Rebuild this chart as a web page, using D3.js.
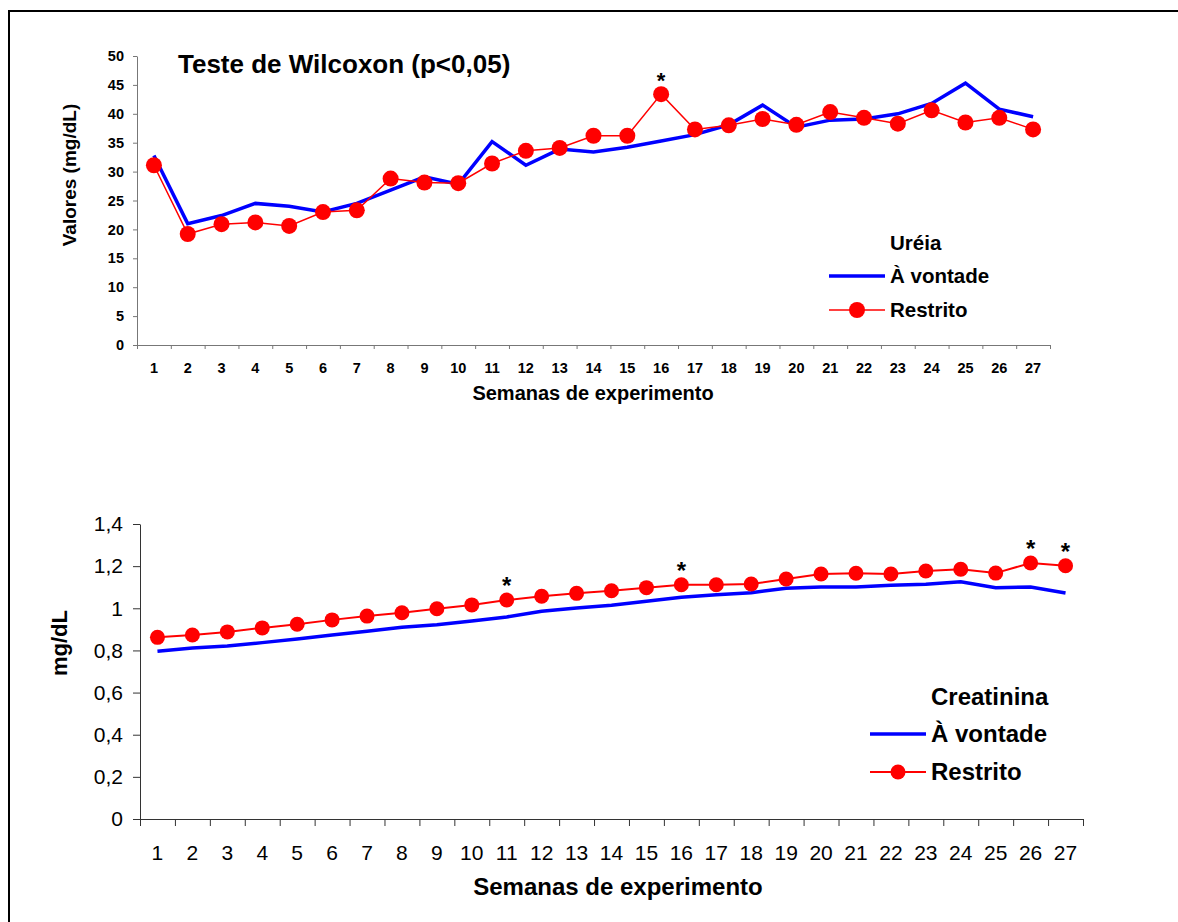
<!DOCTYPE html>
<html><head><meta charset="utf-8">
<script src="https://cdn.jsdelivr.net/npm/d3@7"></script>
<style>body{margin:0;background:#fff}svg{display:block;font-family:"Liberation Sans",Arial,sans-serif}</style>
</head><body>
<svg id="c" width="1178" height="922"></svg>
<script>
const weeks = d3.range(1, 28);
const ureaVontade = [32.8,21.0,22.4,24.5,24.0,23.0,24.5,26.8,29.1,27.8,35.2,31.1,33.9,33.4,34.2,35.3,36.4,38.1,41.5,37.7,38.9,39.1,40.0,41.8,45.3,40.8,39.5];
const ureaRestrito = [31.1,19.2,20.9,21.2,20.6,23.0,23.3,28.8,28.1,28.0,31.4,33.6,34.1,36.2,36.2,43.4,37.3,38.0,39.1,38.1,40.3,39.3,38.3,40.6,38.5,39.3,37.3];
const ureaSig = [16];
const ureaYTicks = [0,5,10,15,20,25,30,35,40,45,50];
const creaVontade = [0.796,0.812,0.821,0.837,0.854,0.873,0.891,0.910,0.922,0.940,0.959,0.986,1.001,1.014,1.033,1.052,1.064,1.074,1.095,1.101,1.101,1.109,1.114,1.126,1.098,1.101,1.073];
const creaRestrito = [0.862,0.873,0.888,0.907,0.924,0.945,0.963,0.979,0.998,1.016,1.039,1.057,1.071,1.083,1.098,1.112,1.112,1.115,1.139,1.163,1.166,1.163,1.177,1.185,1.167,1.215,1.202];
const creaSig = [11,16,26,27];
const creaYTicks = [0,0.2,0.4,0.6,0.8,1.0,1.2,1.4];

const svg = d3.select("#c");
svg.append("rect").attr("x",9).attr("y",11).attr("width",1200).attr("height",950)
  .attr("fill","none").attr("stroke","#000").attr("stroke-width",2);

function chart(o){
  const g = svg.append("g");
  const x = d3.scaleBand().domain(weeks).range([o.x0,o.x1]);
  const xb = d3.scaleLinear().domain([0,27]).range([o.x0,o.x1]);
  const y = d3.scaleLinear().domain(o.ydom).range([o.y0,o.y1]);
  const ax = g.append("g").attr("transform",`translate(0,${o.y0})`)
    .call(d3.axisBottom(xb).tickValues(d3.range(28)).tickFormat("").tickSize(o.xTick).tickSizeOuter(0));
  ax.selectAll("path,line").attr("stroke",o.axisColor);
  const axl = g.append("g").attr("transform",`translate(0,${o.y0})`)
    .call(d3.axisBottom(x).tickSize(0).tickPadding(o.xPad));
  axl.select(".domain").remove();
  axl.selectAll("text").attr("font-size",o.tickFs).attr("font-weight",o.tickFw).attr("fill","#000").attr("font-family","Liberation Sans, Arial");
  const ay = g.append("g").attr("transform",`translate(${o.x0},0)`)
    .call(d3.axisLeft(y).tickValues(o.yTicks).tickSize(o.yTick).tickSizeOuter(0).tickPadding(o.yPad).tickFormat(o.fmt));
  ay.selectAll("path,line").attr("stroke",o.axisColor);
  ay.selectAll("text").attr("font-size",o.tickFs).attr("font-weight",o.tickFw).attr("fill","#000").attr("font-family","Liberation Sans, Arial");
  const cx = d => x(d) + x.bandwidth()/2;
  const line = d3.line().x((d,i)=>cx(weeks[i])).y(d=>y(d));
  g.append("path").datum(o.blue).attr("d",line).attr("fill","none").attr("stroke","#0000ff").attr("stroke-width",o.blueW).attr("stroke-linejoin","miter");
  g.append("path").datum(o.red).attr("d",line).attr("fill","none").attr("stroke","#ff0000").attr("stroke-width",o.redW);
  g.selectAll("circle.p").data(o.red).join("circle").attr("cx",(d,i)=>cx(weeks[i])).attr("cy",d=>y(d)).attr("r",o.r).attr("fill","#ff0000");
  g.selectAll("text.star").data(o.sig).join("text").attr("class","star")
    .attr("x",d=>cx(d)).attr("y",d=>y(o.red[d-1]) - o.starOff).attr("text-anchor","middle")
    .attr("font-size",o.starFs).attr("font-weight","bold").text("*");
  g.append("text").attr("x",o.xTitle[0]).attr("y",o.xTitle[1]).attr("text-anchor","middle")
    .attr("font-size",o.titleFs).attr("font-weight","bold").text("Semanas de experimento");
  g.append("text").attr("transform",`translate(${o.yTitle[0]},${o.yTitle[1]}) rotate(-90)`).attr("text-anchor","middle")
    .attr("font-size",o.yTitleFs).attr("font-weight","bold").text(o.yLabel);
  const L = o.legend;
  g.append("text").attr("x",L.tx).attr("y",L.y0).attr("dy","0.35em").attr("font-size",L.fs).attr("font-weight","bold").text(L.title);
  g.append("line").attr("x1",L.lx0).attr("x2",L.lx1).attr("y1",L.y1).attr("y2",L.y1).attr("stroke","#0000ff").attr("stroke-width",o.blueW);
  g.append("text").attr("x",L.tx).attr("y",L.y1).attr("dy","0.35em").attr("font-size",L.fs).attr("font-weight","bold").text("À vontade");
  g.append("line").attr("x1",L.lx0).attr("x2",L.lx1).attr("y1",L.y2).attr("y2",L.y2).attr("stroke","#ff0000").attr("stroke-width",o.redW);
  g.append("circle").attr("cx",(L.lx0+L.lx1)/2).attr("cy",L.y2).attr("r",o.r).attr("fill","#ff0000");
  g.append("text").attr("x",L.tx).attr("y",L.y2).attr("dy","0.35em").attr("font-size",L.fs).attr("font-weight","bold").text("Restrito");
  return g;
}

const g1 = chart({x0:137,x1:1050,y0:345,y1:56,ydom:[0,50],yTicks:ureaYTicks,fmt:d3.format("d"),
  xTick:4,yTick:4,xPad:18,yPad:9,tickFs:14.5,tickFw:"bold",axisColor:"#777",
  blue:ureaVontade,red:ureaRestrito,sig:ureaSig,blueW:3.5,redW:1.5,r:8,starOff:6,starFs:22,
  xTitle:[593,400],yTitle:[76,175],titleFs:20,yTitleFs:19,yLabel:"Valores (mg/dL)",
  legend:{tx:890,title:"Uréia",y0:243,y1:276,y2:310,lx0:829,lx1:885,fs:20.5}});
g1.append("text").attr("x",178).attr("y",73).attr("font-size",26).attr("font-weight","bold").text("Teste de Wilcoxon (p<0,05)");

chart({x0:140,x1:1083,y0:819,y1:524,ydom:[0,1.4],yTicks:creaYTicks,fmt:d=>d3.format("~g")(d).replace(".",","),
  xTick:7,yTick:7,xPad:26,yPad:10,tickFs:21,tickFw:"normal",axisColor:"#333",
  blue:creaVontade,red:creaRestrito,sig:creaSig,blueW:3.5,redW:2,r:7.5,starOff:6,starFs:24,
  xTitle:[618,895],yTitle:[67,643],titleFs:24,yTitleFs:22,yLabel:"mg/dL",
  legend:{tx:931,title:"Creatinina",y0:697,y1:734,y2:772,lx0:870,lx1:926,fs:24}});
</script>
</body></html>
